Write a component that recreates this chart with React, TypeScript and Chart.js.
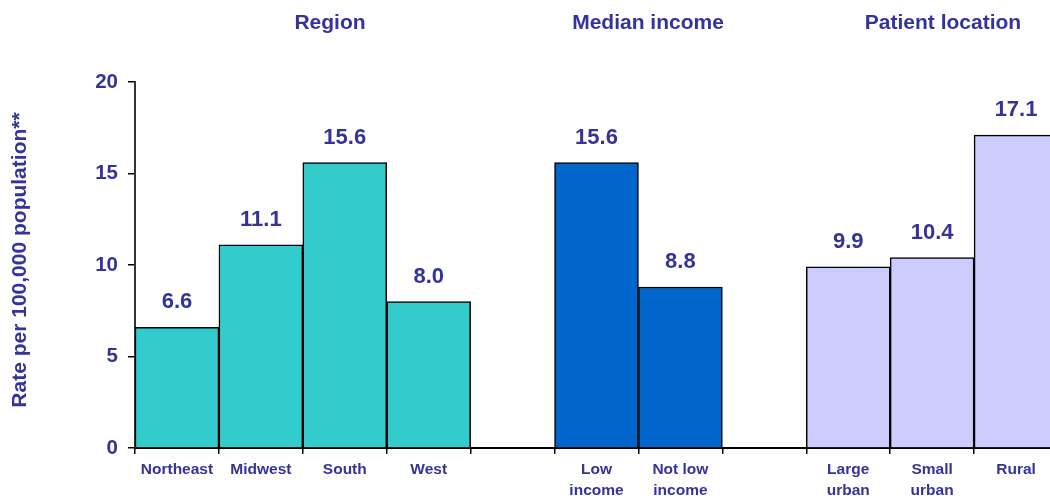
import { useEffect, useRef } from "react";
import { Chart, registerables } from "chart.js";

Chart.register(...registerables);

const categories: string[][] = [
  ["Northeast"], ["Midwest"], ["South"], ["West"], [""],
  ["Low", "income"], ["Not low", "income"], [""],
  ["Large", "urban"], ["Small", "urban"], ["Rural"],
];
const rates: (number | null)[] = [6.6, 11.1, 15.6, 8.0, null, 15.6, 8.8, null, 9.9, 10.4, 17.1];
const groupTitles = ["Region", "Median income", "Patient location"];
const yTicks = [0, 5, 10, 15, 20];
const yAxisTitle = "Rate per 100,000 population**";

const TEAL = "#33CCCC";
const BLUE = "#0066CC";
const LAVENDER = "#CCCCFF";
const barColors = [TEAL, TEAL, TEAL, TEAL, "rgba(0,0,0,0)", BLUE, BLUE, "rgba(0,0,0,0)", LAVENDER, LAVENDER, LAVENDER];
const NAVY = "#333399";
const FONT = "'Liberation Sans', Arial, sans-serif";

export default function App() {
  const ref = useRef<HTMLCanvasElement | null>(null);
  useEffect(() => {
    if (!ref.current) return;
    const decor = {
      id: "decor",
      afterDatasetsDraw(chart: any) {
        const ctx = chart.ctx;
        ctx.save();
        ctx.fillStyle = NAVY;
        // value labels
        const meta = chart.getDatasetMeta(0);
        ctx.font = `bold 22px ${FONT}`;
        ctx.textAlign = "center";
        ctx.textBaseline = "middle";
        meta.data.forEach((bar: any, i: number) => {
          const v = rates[i];
          if (v == null) return;
          ctx.fillText(v.toFixed(1), bar.x, bar.y - 25);
        });
        // group titles
        ctx.font = `bold 21px ${FONT}`;
        const titleX = [330, 648, 943];
        groupTitles.forEach((t, i) => ctx.fillText(t, titleX[i], 23));
        // y-axis title
        ctx.font = `bold 21px ${FONT}`;
        ctx.translate(20, 260);
        ctx.rotate(-Math.PI / 2);
        ctx.fillText(yAxisTitle, 0, 0);
        ctx.restore();
      },
    };
    const chart = new Chart(ref.current, {
      type: "bar",
      data: {
        labels: categories,
        datasets: [
          {
            data: rates,
            backgroundColor: barColors,
            borderColor: "#000000",
            borderWidth: 1.5,
            barPercentage: 1,
            categoryPercentage: 1,
          },
        ],
      },
      options: {
        responsive: false,
        animation: false,
        devicePixelRatio: 1,
        layout: { padding: { top: 82, left: 0, right: 2, bottom: 0 } },
        plugins: { legend: { display: false }, tooltip: { enabled: false } },
        scales: {
          x: {
            grid: { drawOnChartArea: false, offset: true, tickLength: 6, color: "#000000", lineWidth: 1.5 },
            border: { color: "#000000", width: 2 },
            ticks: {
              color: NAVY,
              font: { family: FONT, size: 15.5, weight: "bold", lineHeight: 1.3 },
              padding: 6,
              maxRotation: 0,
              autoSkip: false,
            },
            afterFit: (s: any) => { s.height = 51; },
          },
          y: {
            min: 0,
            max: 20,
            afterBuildTicks: (s: any) => { s.ticks = yTicks.map((v) => ({ value: v })); },
            grid: { drawOnChartArea: false, tickLength: 7, color: "#000000", lineWidth: 1.5 },
            border: { color: "#333333", width: 2 },
            ticks: {
              color: NAVY,
              font: { family: FONT, size: 20.5, weight: "bold" },
              padding: 10,
            },
            afterFit: (s: any) => { s.width = 135; },
          },
        },
      },
      plugins: [decor],
    });
    return () => chart.destroy();
  }, []);
  return (
    <div style={{ position: "absolute", left: 0, top: 0, width: 1050, height: 499, overflow: "hidden", background: "#fff" }}>
      <canvas ref={ref} width={1060} height={499} style={{ width: 1060, height: 499, display: "block" }} />
    </div>
  );
}
